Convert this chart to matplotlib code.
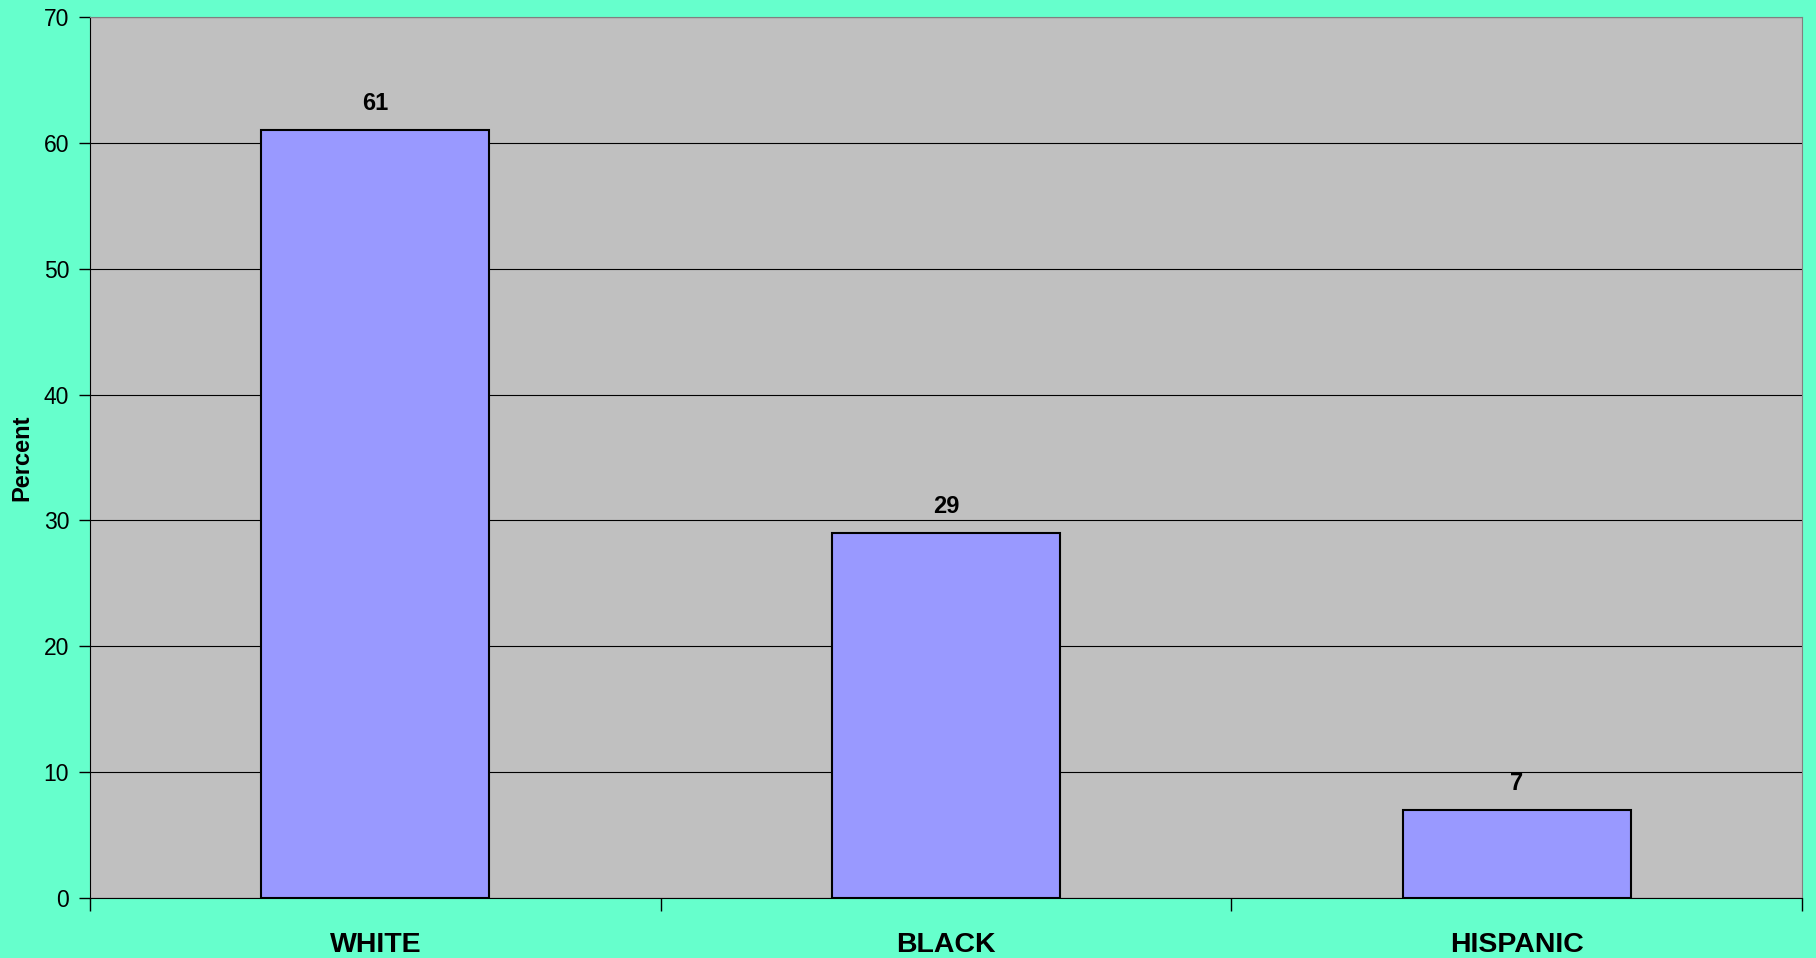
import matplotlib
matplotlib.use("Agg")
import matplotlib.pyplot as plt
import numpy as np

categories = ["WHITE", "BLACK", "HISPANIC"]
percent = [61, 29, 7]
yticks = [0, 10, 20, 30, 40, 50, 60, 70]

plt.rcParams['font.family'] = ['Liberation Sans', 'DejaVu Sans']

fig = plt.figure(figsize=(18.16, 9.58), dpi=100, facecolor="#66FFCC")
ax = fig.add_axes([90 / 1816, 60 / 958, 1712 / 1816, 881 / 958])
ax.set_facecolor("#C0C0C0")

x = np.arange(len(categories))
bars = ax.bar(x, percent, width=0.4, color="#9999FF", edgecolor="black", linewidth=1.5, zorder=3)

ax.set_xlim(-0.5, len(categories) - 0.5)
ax.set_ylim(0, 70)
ax.set_yticks(yticks)
ax.yaxis.grid(True, color="black", linewidth=0.8, zorder=1)

# ticks at category boundaries
ax.set_xticks(np.arange(len(categories) + 1) - 0.5)
ax.set_xticklabels([])
ax.tick_params(axis="x", length=9, width=1, direction="out")
ax.tick_params(axis="y", length=8, width=1, labelsize=16.5, pad=7)
for i, c in enumerate(categories):
    ax.annotate(c, (x[i], 0), xytext=(0, -34), textcoords="offset points",
                ha="center", va="center", fontsize=20.5, fontweight="bold")

for b, v in zip(bars, percent):
    ax.annotate(str(v), (b.get_x() + b.get_width() / 2, v), xytext=(0, 19),
                textcoords="offset points", ha="center", va="center",
                fontsize=17, fontweight="bold")

ax.set_ylabel("Percent", fontsize=17, fontweight="bold")
ax.yaxis.set_label_coords(-0.033, 0.5)

for s in ["top", "right"]:
    ax.spines[s].set_color("#808080")
ax.spines["left"].set_color("black")
ax.spines["bottom"].set_color("black")

fig.savefig("out.png", dpi=100, facecolor=fig.get_facecolor())
